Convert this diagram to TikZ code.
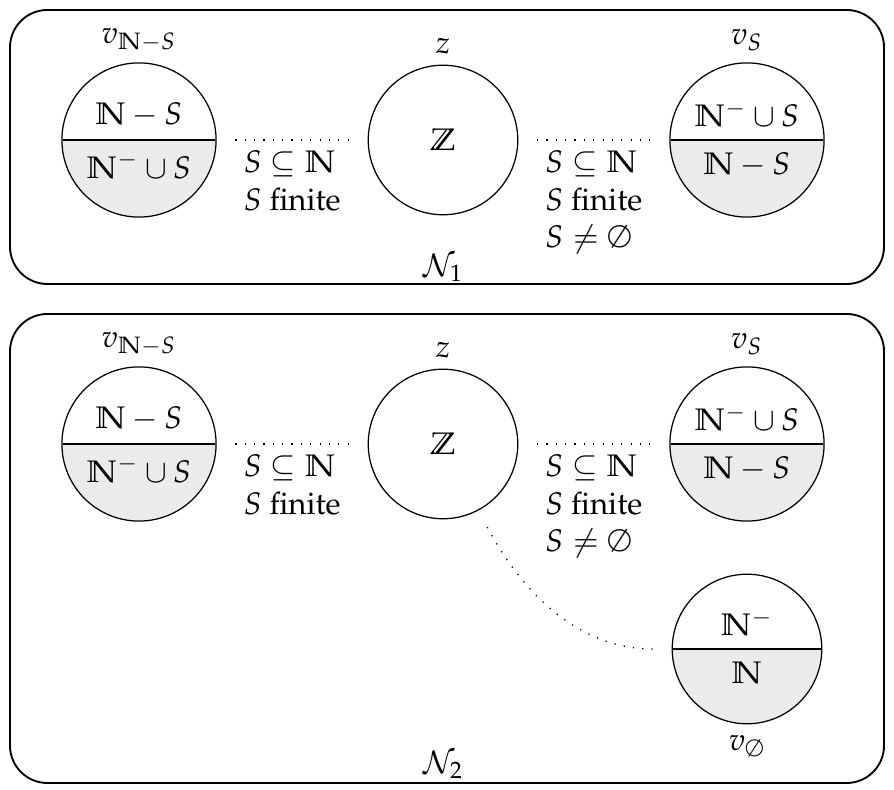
\documentclass[tikz,border=0pt]{standalone}
\usepackage[T1]{fontenc}
\usepackage{mathpazo}
\usepackage{amssymb}
\usetikzlibrary{shapes.multipart,positioning}

\newcommand{\Nat}{\mathbb{N}}
\newcommand{\Int}{\mathbb{Z}}

\begin{document}
\begin{tikzpicture}[x=0.321pt, y=0.321pt,
    vertex/.style={draw, circle split, minimum size=48pt, inner xsep=2pt, inner ysep=3.8pt,
      path picture={\fill[black!8] (path picture bounding box.west) rectangle (path picture bounding box.south east);}},
    hub/.style={draw, circle, minimum size=48pt},
    link/.style={dash pattern=on 0.4pt off 2.6pt, shorten >=6pt, shorten <=6pt},
    cond/.style={below, align=left},
    frame/.style={draw, semithick, rounded corners=12pt}
  ]
  \useasboundingbox (0,0) rectangle (894,790);

  % first network
  \draw[frame] (10,780) rectangle (884,506);
  \node[vertex, label={above:$v_{\Nat-S}$}] (vnsA) at (139,650) {$\Nat-S$ \nodepart{lower} $\Nat^-\cup S$};
  \node[hub, label={above:$z$}] (zA) at (443,650) {$\Int$};
  \node[vertex, label={above:$v_S$}] (vsA) at (747,650) {$\Nat^-\cup S$ \nodepart{lower} $\Nat-S$};
  \node (netA) at (443,522) {$\mathcal{N}_1$};
  \draw[link] (vnsA) -- node[cond] {$S\subseteq\Nat$\\$S$ finite} (zA);
  \draw[link] (zA) -- node[cond] {$S\subseteq\Nat$\\$S$ finite\\$S\neq\emptyset$} (vsA);

  % second network
  \draw[frame] (10,476) rectangle (884,7);
  \node[vertex, label={above:$v_{\Nat-S}$}] (vnsB) at (139,346) {$\Nat-S$ \nodepart{lower} $\Nat^-\cup S$};
  \node[hub, label={above:$z$}] (zB) at (443,346) {$\Int$};
  \node[vertex, label={above:$v_S$}] (vsB) at (747,346) {$\Nat^-\cup S$ \nodepart{lower} $\Nat-S$};
  \node[vertex, label={below:$v_\emptyset$}] (veB) at (747,141) {$\Nat^-$ \nodepart{lower} $\Nat$};
  \node (netB) at (443,25) {$\mathcal{N}_2$};
  \draw[link] (vnsB) -- node[cond] {$S\subseteq\Nat$\\$S$ finite} (zB);
  \draw[link] (zB) -- node[cond] {$S\subseteq\Nat$\\$S$ finite\\$S\neq\emptyset$} (vsB);
  \draw[link] (zB) to[out=-62, in=180] (veB);
\end{tikzpicture}
\end{document}
